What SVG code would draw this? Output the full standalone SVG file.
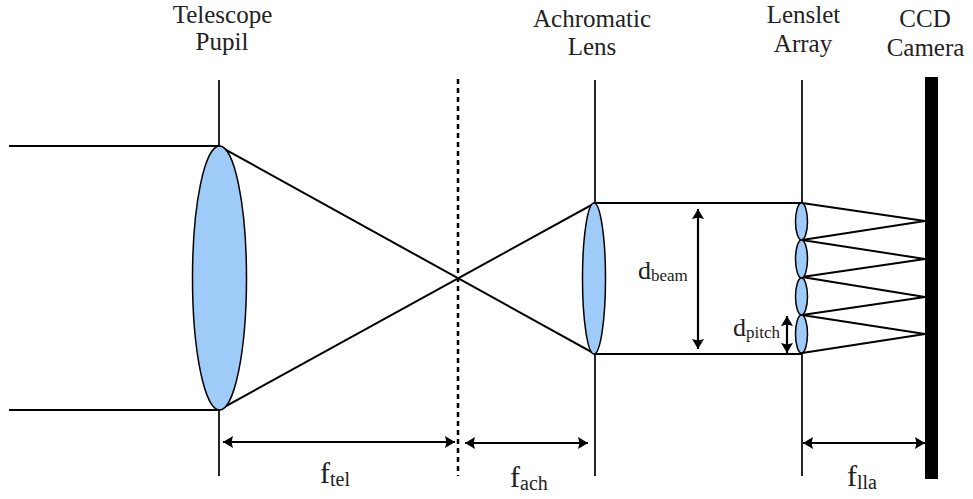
<svg xmlns="http://www.w3.org/2000/svg" width="973" height="499" viewBox="0 0 973 499">
<style>
.l{stroke:#000;stroke-width:2;fill:none}
.a{stroke:#000;stroke-width:2.2;fill:none;marker-start:url(#h);marker-end:url(#h)}
.g{stroke:#000;stroke-width:1.7;fill:none}
.d{stroke:#000;stroke-width:2.5;fill:none;stroke-dasharray:5 4}
.e{fill:#9fcbf9;stroke:#000;stroke-width:1.5}
text{font-family:"Liberation Serif","Times New Roman",serif;fill:#222}
.t{font-size:25px;text-anchor:middle}
.s{font-size:30px}
.m{font-size:26px}
.u{font-size:20px}
.v{font-size:17px}
</style>
<defs>
<marker id="h" viewBox="0 0 10 12" refX="10" refY="6" markerUnits="userSpaceOnUse" markerWidth="10" markerHeight="12" orient="auto-start-reverse"><path d="M0 0L10 6L0 12L1.500 6Z" fill="#000"/></marker>
</defs>
<g id="connectors">
<path class="g" d="M219 80V476M595 80V476M802 80V476"/>
<path class="d" d="M458 79V476"/>
<path class="l" d="M9 146H219L595 354H802M9 410H219L595 203H802"/>
<path class="l" d="M802 203L925 221L802 240L925 259L802 277L925 297L802 315L925 334L802 353"/>
<path class="a" d="M223 442H455"/>
<path class="a" d="M465 443H588"/>
<path class="a" d="M803 443H925"/>
<path class="a" d="M698 209V349"/>
<path class="a" d="M787 316V353"/>
</g>
<g id="telescope-lens"><ellipse class="e" cx="219.500" cy="278" rx="27" ry="132"/></g>
<g id="achromatic-lens"><ellipse class="e" cx="594" cy="278.500" rx="11.500" ry="75.500"/></g>
<g id="lenslet-1"><ellipse class="e" cx="801.500" cy="221.500" rx="6" ry="18.500"/></g>
<g id="lenslet-2"><ellipse class="e" cx="801.500" cy="259" rx="6" ry="19"/></g>
<g id="lenslet-3"><ellipse class="e" cx="801.500" cy="296.500" rx="6" ry="18.500"/></g>
<g id="lenslet-4"><ellipse class="e" cx="801.500" cy="334" rx="6" ry="19"/></g>
<g id="ccd"><rect x="925" y="77" width="13" height="402" fill="#000"/></g>
<g id="labels">
<text class="t" x="222.500" y="23">Telescope</text>
<text class="t" x="222" y="50">Pupil</text>
<text class="t" x="592" y="27">Achromatic</text>
<text class="t" x="592" y="55">Lens</text>
<text class="t" x="803.500" y="23">Lenslet</text>
<text class="t" x="803" y="52">Array</text>
<text class="t" x="925" y="27">CCD</text>
<text class="t" x="925.500" y="56">Camera</text>
<text class="s" x="320" y="483">f<tspan class="u" dy="3">tel</tspan></text>
<text class="s" x="510" y="487">f<tspan class="u" dy="3">ach</tspan></text>
<text class="s" x="847" y="486">f<tspan class="u" dy="3">lla</tspan></text>
<text class="m" x="638" y="279">d<tspan class="v" dy="2">beam</tspan></text>
<text class="m" x="733" y="336">d<tspan class="v" dy="2">pitch</tspan></text>
</g>
</svg>
